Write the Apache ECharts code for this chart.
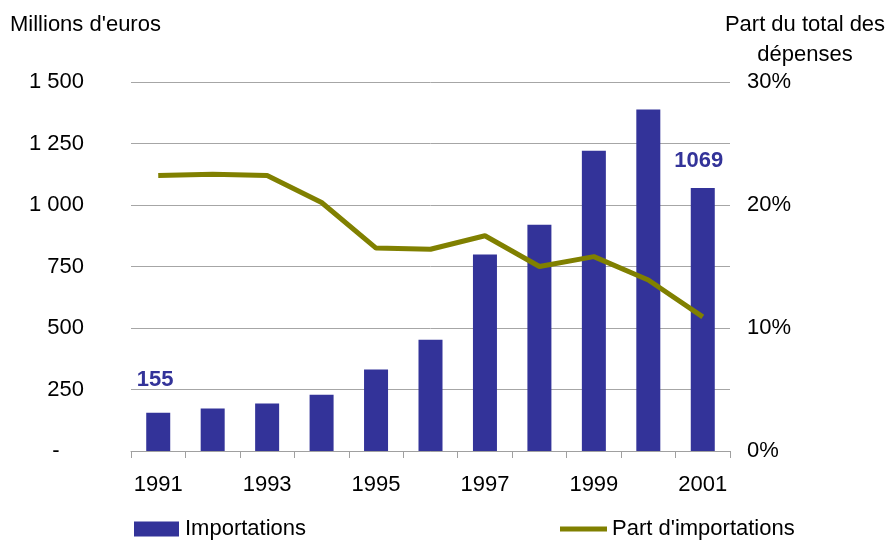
<!DOCTYPE html>
<html>
<head>
<meta charset="utf-8">
<script src="https://cdn.jsdelivr.net/npm/echarts@6/dist/echarts.min.js"></script>
<style>html,body{margin:0;padding:0;background:#fff}#c{width:892px;height:540px}</style>
</head>
<body>
<div id="c"></div>
<script>
const years = ['1991','1992','1993','1994','1995','1996','1997','1998','1999','2000','2001'];
const importations = [155, 173, 193, 229, 331, 452, 799, 920, 1221, 1388, 1069];
const partImportations = [22.4, 22.5, 22.4, 20.2, 16.5, 16.4, 17.5, 15.0, 15.8, 13.9, 10.9];
const leftTicks = ['-', '250', '500', '750', '1 000', '1 250', '1 500'];
const rightTicks = ['0%', '10%', '20%', '30%'];

const FONT = 'Liberation Sans, Arial, sans-serif';
const FS = 22;
const BLUE = '#333399';
const OLIVE = '#808000';

const chart = echarts.init(document.getElementById('c'), null, {renderer: 'canvas'});
const barData = importations.map((v, i) => {
  if (i === 0) return {value: v, label: {show: true, distance: 22, offset: [-3, 0]}};
  if (i === importations.length - 1) return {value: v, label: {show: true, distance: 16, offset: [-4, 0]}};
  return v;
});

chart.setOption({
  animation: false,
  backgroundColor: '#fff',
  textStyle: {fontFamily: FONT},
  title: [
    {text: "Millions d'euros", left: 10, top: 10, padding: 0,
     textStyle: {fontFamily: FONT, fontSize: FS, fontWeight: 'normal', color: '#000', lineHeight: 30}},
    {text: 'Part du total des\ndépenses', left: 805, top: 10, padding: 0, textAlign: 'center',
     textStyle: {fontFamily: FONT, fontSize: FS, fontWeight: 'normal', color: '#000', lineHeight: 30}}
  ],
  legend: [
    {data: ['Importations'], left: 134, top: 518, padding: 0, itemWidth: 45, itemHeight: 15,
     icon: 'rect', itemGap: 6,
     textStyle: {fontFamily: FONT, fontSize: FS, color: '#000', padding: [0, 0, 0, 1]}},
    {data: ["Part d'importations"], left: 560, top: 518, padding: 0, itemWidth: 47, itemHeight: 5,
     icon: 'rect',
     textStyle: {fontFamily: FONT, fontSize: FS, color: '#000'}}
  ],
  grid: {left: 131, right: 162, top: 82, bottom: 89, containLabel: false},
  xAxis: {
    type: 'category', data: years, boundaryGap: true,
    axisLine: {lineStyle: {color: '#a0a0a0', width: 1}},
    axisTick: {show: true, length: 7, lineStyle: {color: '#a0a0a0'}, alignWithLabel: false, interval: 0},
    axisLabel: {interval: 1, margin: 23, fontFamily: FONT, fontSize: FS, color: '#000'}
  },
  yAxis: [
    {type: 'value', min: 0, max: 1500, interval: 250,
     axisLine: {show: false}, axisTick: {show: false},
     splitLine: {lineStyle: {color: '#a6a6a6', width: 1}},
     axisLabel: {margin: 47, fontFamily: FONT, fontSize: FS, color: '#000',
       formatter: (v) => { const s = leftTicks[Math.round(v / 250)]; return s === '-' ? '-    ' : s; }}},
    {type: 'value', min: 0, max: 30, interval: 10,
     axisLine: {show: false}, axisTick: {show: false}, splitLine: {show: false},
     axisLabel: {margin: 17, fontFamily: FONT, fontSize: FS, color: '#000',
       formatter: (v) => rightTicks[Math.round(v / 10)]}}
  ],
  series: [
    {name: 'Importations', type: 'bar', yAxisIndex: 0, data: barData, barWidth: 24,
     itemStyle: {color: BLUE},
     label: {show: false, position: 'top', fontFamily: FONT, fontSize: FS, fontWeight: 'bold', color: BLUE}},
    {name: "Part d'importations", type: 'line', yAxisIndex: 1, data: partImportations,
     symbol: 'none', showSymbol: false, lineStyle: {color: OLIVE, width: 5}, itemStyle: {color: OLIVE}, z: 3}
  ]
});
</script>
</body>
</html>
